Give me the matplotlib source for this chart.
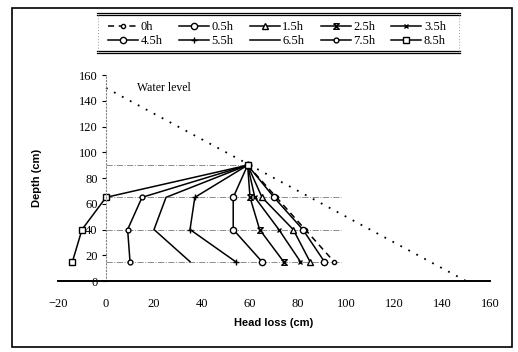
import matplotlib
matplotlib.use("Agg")
import matplotlib.pyplot as plt
from matplotlib.path import Path
from matplotlib.lines import Line2D
from matplotlib.patches import Rectangle

# depths (cm) where head loss was measured
depth = [90, 65, 40, 15]

# head loss (cm) for each elapsed time
labels = ['0h', '0.5h', '1.5h', '2.5h', '3.5h', '4.5h', '5.5h', '6.5h', '7.5h', '8.5h']
h_0 = [59, 71, 83, 95]
h_05 = [59, 70, 82, 91]
h_15 = [59, 65, 78, 85]
h_25 = [59, 60, 64, 74]
h_35 = [59, 62, 72, 81]
h_45 = [59, 53, 53, 65]
h_55 = [59, 37, 35, 54]
h_65 = [59, 25, 20, 35]
h_75 = [59, 15, 9, 10]
h_85 = [59, 0, -10, -14]
series = [h_0, h_05, h_15, h_25, h_35, h_45, h_55, h_65, h_75, h_85]

water_x = [0, 150]
water_y = [150, 0]

hourglass = Path([(-1, 1), (1, 1), (-1, -1), (1, -1), (-1, 1)])
styles = [
    dict(ls=(0, (4, 3)), marker='o', ms=3),
    dict(ls='-', marker='o', ms=4.5),
    dict(ls='-', marker='^', ms=4),
    dict(ls='-', marker=hourglass, ms=4),
    dict(ls='-', marker='x', ms=3.5),
    dict(ls='-', marker='o', ms=4.5),
    dict(ls='-', marker='+', ms=4),
    dict(ls='-', marker='', ms=0),
    dict(ls='-', marker='o', ms=3.5),
    dict(ls='-', marker='s', ms=4.5),
]

serif = ['Liberation Serif', 'DejaVu Serif']
sans = ['Liberation Sans', 'DejaVu Sans']

fig = plt.figure(figsize=(5.18, 3.52), dpi=100)
fig.patches.append(Rectangle((0.023, 0.014), 0.965, 0.963, transform=fig.transFigure,
                             fill=False, ec='black', lw=1.2))
ax = fig.add_axes([0.112, 0.2017, 0.834, 0.585])

# reference lines at each measuring depth
ax.plot([0, 59], [90, 90], color='0.55', ls='-.', lw=0.7)
for d in depth[1:]:
    ax.plot([0, 98], [d, d], color='0.55', ls='-.', lw=0.7)

ax.plot(water_x, water_y, color='black', ls=(0, (1, 4)), lw=1.3)
ax.text(13, 150, 'Water level', family=serif, fontsize=8.5, va='center')

handles = []
for lab, hl, st in zip(labels, series, styles):
    ln, = ax.plot(hl, depth, color='black', lw=1.1, ls=st['ls'], marker=st['marker'],
                  ms=st['ms'], mfc='white', mec='black', mew=1.0, label=lab, clip_on=False)
    handles.append(ln)

ax.set_xlim(-20, 160)
ax.set_ylim(0, 160)
ax.set_xticks(range(-20, 161, 20))
ax.set_yticks(range(0, 161, 20))
ax.spines['top'].set_visible(False)
ax.spines['right'].set_visible(False)
ax.spines['left'].set_position(('data', 0))
ax.spines['left'].set_linestyle((0, (1, 2)))
ax.spines['left'].set_color('0.5')
ax.spines['left'].set_linewidth(0.8)
ax.spines['bottom'].set_linewidth(1.4)
ax.tick_params(axis='x', length=0, pad=12)
ax.tick_params(axis='y', length=3, width=0.8, direction='out', pad=3)
for t in ax.get_xticklabels() + ax.get_yticklabels():
    t.set_family(serif)
    t.set_fontsize(9)
ax.set_xlabel('Head loss (cm)', family=sans, fontsize=8, fontweight='bold', labelpad=6)
ax.text(-0.049, 0.5, 'Depth (cm)', transform=ax.transAxes, rotation=90, family=sans,
        fontsize=8, fontweight='bold', va='center', ha='center')

# legend filled row by row
order = [0, 5, 1, 6, 2, 7, 3, 8, 4, 9]
leg = fig.legend([handles[i] for i in order], [labels[i] for i in order], ncol=5,
                 loc='center', bbox_to_anchor=(0.535, 0.903), frameon=False,
                 prop={'family': serif, 'size': 9}, handlelength=2.4, handletextpad=0.2,
                 columnspacing=1.3, labelspacing=0.15, borderpad=0.2)
for yy in [0.963, 0.957, 0.855, 0.849]:
    fig.add_artist(Line2D([0.187, 0.888], [yy, yy], transform=fig.transFigure,
                          color='black', lw=0.9))
for xx in [0.189, 0.886]:
    fig.add_artist(Line2D([xx, xx], [0.855, 0.957], transform=fig.transFigure,
                          color='0.6', lw=0.7, ls=(0, (1, 2))))

fig.savefig('out.png', dpi=100)
